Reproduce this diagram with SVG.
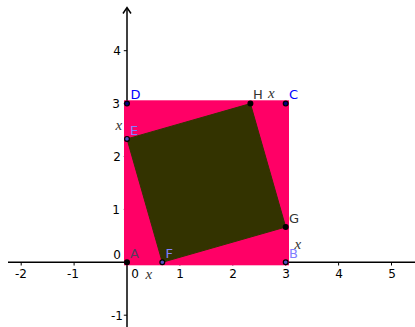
<svg xmlns="http://www.w3.org/2000/svg" width="415" height="327" viewBox="0 0 415 327">
<style>
.tick{font-family:"DejaVu Sans",sans-serif;font-size:12px;fill:#000}
.lbl{font-family:"DejaVu Sans",sans-serif;font-size:13px}
.var{font-family:"Liberation Serif",serif;font-style:italic;font-size:15px;fill:#333}
.axis{stroke:#000;stroke-width:1.5;fill:none}
.pt{stroke:#000;stroke-width:1.2}
</style>
<rect width="415" height="327" fill="#fff"/>
<g id="axes">
<line class="axis" x1="8" y1="262.3" x2="415" y2="262.3"/>
<line class="axis" x1="127" y1="327" x2="127" y2="8"/>
<polyline class="axis" points="123,13.5 127,7.5 131,13.5"/>
<g stroke="#000" stroke-width="1">
<line x1="21.2" y1="262.3" x2="21.2" y2="265.5"/>
<line x1="74.1" y1="262.3" x2="74.1" y2="265.5"/>
<line x1="179.9" y1="262.3" x2="179.9" y2="265.5"/>
<line x1="232.8" y1="262.3" x2="232.8" y2="265.5"/>
<line x1="285.7" y1="262.3" x2="285.7" y2="265.5"/>
<line x1="338.6" y1="262.3" x2="338.6" y2="265.5"/>
<line x1="391.5" y1="262.3" x2="391.5" y2="265.5"/>
<line x1="123.8" y1="315.2" x2="127" y2="315.2"/>
<line x1="123.8" y1="209.4" x2="127" y2="209.4"/>
<line x1="123.8" y1="156.5" x2="127" y2="156.5"/>
<line x1="123.8" y1="103.6" x2="127" y2="103.6"/>
<line x1="123.8" y1="50.7" x2="127" y2="50.7"/>
</g>
<g class="tick" text-anchor="middle">
<text x="21" y="278">-2</text>
<text x="73" y="278">-1</text>
<text x="180" y="278">1</text>
<text x="233" y="278">2</text>
<text x="286" y="278">3</text>
<text x="339" y="278">4</text>
<text x="392" y="278">5</text>
<text x="135" y="278">0</text>
<text x="117" y="259">0</text>
<text x="117" y="320">-1</text>
<text x="116" y="214">1</text>
<text x="117" y="161">2</text>
<text x="116" y="108">3</text>
<text x="117" y="55">4</text>
</g>
</g>
<g id="squareABCD">
<rect x="124" y="100.3" width="165" height="165" fill="#ff0066"/>
</g>
<g id="squareEFGH">
<polygon points="162.3,262.3 285.7,227 250.4,103.6 127,138.9" fill="#333300" stroke="#333300" stroke-width="1"/>
</g>
<g id="points">
<g id="A"><circle class="pt" cx="127" cy="262.3" r="2.4" fill="#000"/><text class="lbl" x="130" y="258" fill="#5a3a5a">A</text></g>
<g id="B"><circle class="pt" cx="285.7" cy="262.3" r="2.4" fill="#5050c0"/><text class="lbl" x="289" y="258" fill="#8080ff">B</text></g>
<g id="C"><circle class="pt" cx="285.7" cy="103.6" r="2.4" fill="#000080"/><text class="lbl" x="289" y="99" fill="#0000ff">C</text></g>
<g id="D"><circle class="pt" cx="127" cy="103.6" r="2.4" fill="#000080"/><text class="lbl" x="130.5" y="99" fill="#0000ff">D</text></g>
<g id="E"><circle class="pt" cx="127" cy="138.9" r="2.4" fill="#5050c0"/><text class="lbl" x="130" y="135" fill="#8080ff">E</text></g>
<g id="F"><circle class="pt" cx="162.3" cy="262.3" r="2.4" fill="#5050c0"/><text class="lbl" x="165.5" y="258" fill="#8080ff">F</text></g>
<g id="G"><circle class="pt" cx="285.7" cy="227" r="2.4" fill="#000"/><text class="lbl" x="289" y="223" fill="#333">G</text></g>
<g id="H"><circle class="pt" cx="250.4" cy="103.6" r="2.4" fill="#000"/><text class="lbl" x="253" y="99" fill="#333">H</text></g>
</g>
<g id="labels">
<text class="var" x="145.5" y="279">x</text>
<text class="var" x="115.5" y="130">x</text>
<text class="var" x="268" y="98">x</text>
<text class="var" x="294.5" y="249">x</text>
</g>
</svg>
